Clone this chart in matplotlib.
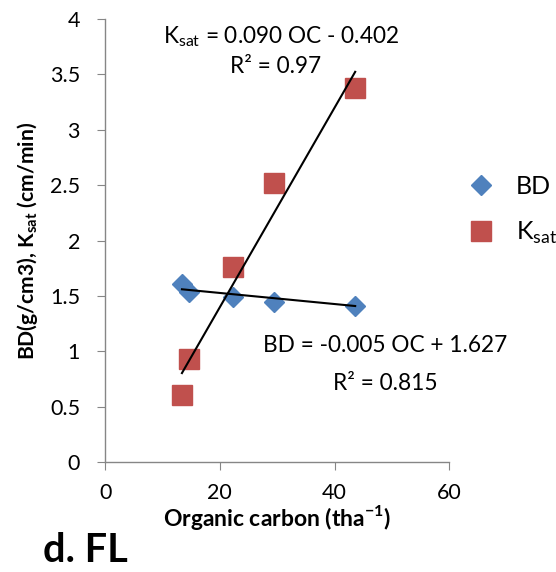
import matplotlib
matplotlib.use('Agg')
import matplotlib.pyplot as plt
import numpy as np

plt.rcParams['font.family'] = ['Lato', 'DejaVu Sans']

# organic carbon (t/ha) for each sample
oc = [13.4, 14.7, 22.3, 29.5, 43.6]
bd = [1.605, 1.535, 1.49, 1.445, 1.41]
ksat = [0.61, 0.93, 1.76, 2.52, 3.38]

# trendline coefficients as printed on the chart
bd_fit = (-0.005, 1.627)
ksat_fit = (0.090, -0.402)

x_ticks = [0, 20, 40, 60]
y_ticks = [0, 0.5, 1, 1.5, 2, 2.5, 3, 3.5, 4]
y_tick_labels = ['0', '0.5', '1', '1.5', '2', '2.5', '3', '3.5', '4']

blue = '#4F81BD'
red = '#C0504D'
grey = '#868686'

fig = plt.figure(figsize=(5.56, 5.72), dpi=100)
ax = fig.add_axes([0.189, 0.192, 0.619, 0.775])

ax.plot(oc, bd, linestyle='none', marker='D', markersize=10.5, color=blue,
        label='BD', zorder=3)
ax.plot(oc, ksat, linestyle='none', marker='s', markersize=14, color=red,
        label='K$_{\\mathregular{sat}}$', zorder=3)

# linear trendlines over the range of the data
xs = np.array([min(oc), max(oc)])
ax.plot(xs, bd_fit[0] * xs + bd_fit[1], color='black', lw=1.5, zorder=4)
ax.plot(xs, ksat_fit[0] * xs + ksat_fit[1], color='black', lw=1.5, zorder=4)

ax.set_xlim(0, 60)
ax.set_ylim(0, 4)
ax.set_xticks(x_ticks)
ax.set_yticks(y_ticks)
ax.set_yticklabels(y_tick_labels)

for side in ['top', 'right']:
    ax.spines[side].set_visible(False)
for side in ['left', 'bottom']:
    ax.spines[side].set_color(grey)
    ax.spines[side].set_linewidth(1.0)
ax.tick_params(axis='both', colors=grey, labelcolor='black', labelsize=15.5,
               length=6, direction='out')
ax.tick_params(axis='y', pad=12)
ax.tick_params(axis='x', pad=9)

ax.set_xlabel('Organic carbon (tha$^{\\mathregular{-1}}$)', fontsize=16.5,
              fontweight='bold', labelpad=0)
ax.set_ylabel('BD(g/cm3), K$_{\\mathregular{sat}}$ (cm/min)', fontsize=15.2,
              fontweight='bold', labelpad=7)

ax.text(30.7, 3.84, 'K$_{\\mathregular{sat}}$ = 0.090 OC - 0.402', fontsize=16.3,
        ha='center', va='center')
ax.text(29.7, 3.57, 'R² = 0.97', fontsize=16.3, ha='center', va='center')
ax.text(48.8, 1.056, 'BD = -0.005 OC + 1.627', fontsize=16.3,
        ha='center', va='center')
ax.text(48.8, 0.713, 'R² = 0.815', fontsize=16.3, ha='center', va='center')

ax.legend(loc='center left', bbox_to_anchor=(1.049, 0.568), frameon=False,
          fontsize=18, borderpad=0, borderaxespad=0, handletextpad=0.8,
          labelspacing=0.9, handlelength=1.2)

fig.text(0.077, 0.017, 'd. FL', fontsize=28.5, fontweight='bold',
         va='baseline')

fig.savefig('out.png', dpi=100)
